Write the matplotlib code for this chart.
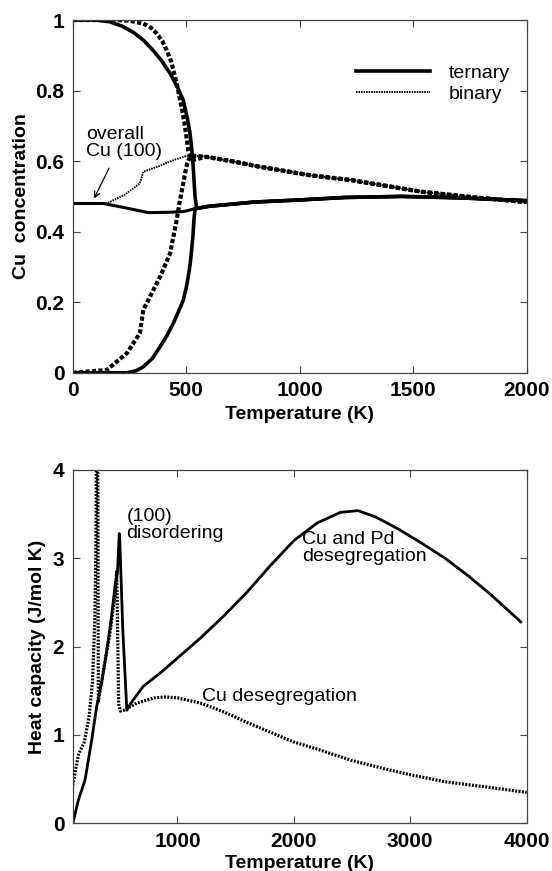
import numpy as np
import matplotlib
matplotlib.use("Agg")
import matplotlib.pyplot as plt
from matplotlib.ticker import FuncFormatter

plt.rcParams['font.family'] = ['Liberation Sans', 'DejaVu Sans']

# ---- painel superior: concentração de Cu ----
# ternário, camada de topo
t_ter_top = [0, 100, 164, 220, 270, 311, 350, 390, 429, 460, 487, 505, 517, 525, 531, 536, 539, 546,
             600, 700, 800, 1000, 1200, 1450, 1700, 2000]
c_ter_top = [1.0, 1.0, 0.995, 0.982, 0.964, 0.943, 0.917, 0.886, 0.849, 0.812, 0.773, 0.722, 0.679, 0.632, 0.584, 0.53, 0.50, 0.466,
             0.472, 0.478, 0.484, 0.49, 0.497, 0.50, 0.496, 0.488]
# ternário, segunda camada
t_ter_sub = [0, 238, 280, 311, 350, 385, 415, 443, 467, 487, 500, 509, 518, 524, 530, 534, 539, 546,
             600, 700, 800, 1000, 1200, 1450, 1700, 2000]
c_ter_sub = [0.0, 0.0, 0.006, 0.017, 0.04, 0.074, 0.105, 0.14, 0.175, 0.206, 0.24, 0.272, 0.31, 0.348, 0.39, 0.433, 0.466, 0.466,
             0.472, 0.478, 0.484, 0.49, 0.497, 0.50, 0.496, 0.488]
# ternário, Cu total (100)
t_ter_all = [0, 135, 230, 333, 420, 487, 546, 600, 700, 800, 1000, 1200, 1450, 1700, 2000]
c_ter_all = [0.48, 0.48, 0.468, 0.454, 0.455, 0.457, 0.466, 0.472, 0.478, 0.484, 0.49, 0.497, 0.50, 0.496, 0.488]
# binário, camada de topo
t_bin_top = [0, 190, 250, 311, 345, 370, 395, 414, 435, 451, 463, 473, 485, 495, 503, 509, 520, 531, 560, 590, 700, 825, 1045,
             1229, 1539, 1772, 2000]
c_bin_top = [1.0, 1.0, 0.998, 0.99, 0.978, 0.962, 0.94, 0.915, 0.88, 0.839, 0.806, 0.773, 0.735, 0.697, 0.66, 0.631, 0.612, 0.603,
             0.608, 0.612, 0.60, 0.584, 0.56, 0.546, 0.513, 0.497, 0.484]
# binário, segunda camada
t_bin_sub = [0, 150, 238, 296, 311, 340, 385, 429, 458, 473, 485, 495, 505, 517, 540, 590, 700, 825, 1045, 1229, 1539, 1772, 2000]
c_bin_sub = [0.0, 0.008, 0.055, 0.112, 0.178, 0.215, 0.272, 0.338, 0.433, 0.49, 0.53, 0.565, 0.595, 0.612, 0.615, 0.612, 0.60,
             0.584, 0.56, 0.546, 0.513, 0.497, 0.484]
# binário, Cu total (100)
t_bin_all = [0, 150, 230, 296, 311, 385, 453, 502, 560, 700, 825, 1045, 1229, 1539, 1772, 2000]
c_bin_all = [0.48, 0.48, 0.505, 0.537, 0.57, 0.587, 0.605, 0.615, 0.615, 0.60, 0.584, 0.56, 0.546, 0.513, 0.497, 0.484]

# ---- painel inferior: capacidade calorífica ----
t_cp_ter = [105, 148, 206, 263, 306, 350, 392, 430, 463, 485, 500, 505, 530, 565, 600, 706, 850, 1000, 1200, 1400, 1600, 1800,
            2000, 2200, 2400, 2550, 2700, 2900, 3100, 3300, 3500, 3700, 3950]
cp_ter = [0.02, 0.26, 0.49, 0.94, 1.32, 1.6, 1.95, 2.3, 2.68, 2.85, 3.28, 3.2, 2.2, 1.28, 1.36, 1.55, 1.70, 1.87, 2.10, 2.35,
          2.62, 2.92, 3.20, 3.40, 3.52, 3.54, 3.47, 3.33, 3.17, 3.00, 2.80, 2.58, 2.28]
t_cp_bin = [100, 150, 200, 240, 270, 290, 300, 305, 315, 320, 340, 380, 420, 460, 478, 488, 495, 510, 540, 650, 800, 900,
            1000, 1200, 1400, 1600, 1800, 2000, 2200, 2500, 2800, 3000, 3300, 3600, 4000]
cp_bin = [0.43, 0.78, 0.92, 1.2, 1.6, 2.3, 3.2, 4.5, 4.5, 1.38, 1.55, 1.85, 2.15, 2.55, 2.85, 2.0, 1.35, 1.27, 1.28, 1.36, 1.42,
          1.43, 1.42, 1.36, 1.26, 1.14, 1.03, 0.92, 0.84, 0.71, 0.61, 0.55, 0.47, 0.42, 0.35]

fig = plt.figure(figsize=(5.52, 8.71), dpi=100)
ax1 = fig.add_axes([0.1317, 0.572, 0.8223, 0.405])
ax2 = fig.add_axes([0.1317, 0.0548, 0.8223, 0.4056])

grossos = (0, (1.0, 0.55))
ax1.plot(t_ter_top, c_ter_top, color='k', lw=2.6, label='ternary')
ax1.plot(t_ter_sub, c_ter_sub, color='k', lw=2.6)
ax1.plot(t_ter_all, c_ter_all, color='k', lw=2.2)
ax1.plot(t_bin_top, c_bin_top, color='k', lw=3.0, linestyle=grossos)
ax1.plot(t_bin_sub, c_bin_sub, color='k', lw=3.0, linestyle=grossos)
ax1.plot(t_bin_all, c_bin_all, color='k', lw=1.4, linestyle=(0, (0.8, 0.5)), label='binary')

ax1.set_xlim(0, 2000)
ax1.set_ylim(0, 1)
ax1.set_xticks([0, 500, 1000, 1500, 2000])
ax1.set_yticks([0, 0.2, 0.4, 0.6, 0.8, 1])
ax1.yaxis.set_major_formatter(FuncFormatter(lambda v, p: '%g' % v))
ax1.set_xlabel('Temperature (K)', fontsize=14, fontweight='bold', labelpad=4)
ax1.set_ylabel('Cu  concentration', fontsize=14, fontweight='bold', labelpad=4)

leg = ax1.legend(loc='upper left', bbox_to_anchor=(0.585, 0.925), frameon=False, fontsize=14,
                 handlelength=3.8, handletextpad=1.0, labelspacing=0.2)

ax1.text(57, 0.70, 'overall\nCu (100)', fontsize=14, va='top', ha='left', linespacing=1.0)
ax1.annotate('', xy=(94, 0.494), xytext=(160, 0.58),
             arrowprops=dict(arrowstyle='->', color='k', lw=0.9, shrinkA=0, shrinkB=0))

ax2.plot(t_cp_ter, cp_ter, color='k', lw=2.0)
ax2.plot(t_cp_bin, cp_bin, color='k', lw=2.3, linestyle=(0, (0.6, 0.45)))
ax2.set_xlim(100, 4000)
ax2.set_ylim(0, 4)
ax2.set_xticks([1000, 2000, 3000, 4000])
ax2.set_yticks([0, 1, 2, 3, 4])
ax2.set_xlabel('Temperature (K)', fontsize=14, fontweight='bold', labelpad=3)
ax2.set_ylabel('Heat capacity (J/mol K)', fontsize=14, fontweight='bold', labelpad=5)

ax2.text(563, 3.57, '(100)\ndisordering', fontsize=14, va='top', ha='left', linespacing=1.0)
ax2.text(2074, 3.31, 'Cu and Pd\ndesegregation', fontsize=14, va='top', ha='left', linespacing=1.0)
ax2.text(1212, 1.44, 'Cu desegregation', fontsize=14, va='center', ha='left')

for ax in (ax1, ax2):
    for s in ax.spines.values():
        s.set_color('#444444')
        s.set_linewidth(0.9)
    ax.tick_params(direction='in', top=True, right=True, length=5, width=0.8, color='#444444',
                   labelsize=15, pad=6)
    for lab in ax.get_xticklabels() + ax.get_yticklabels():
        lab.set_fontweight('bold')

fig.savefig('out.png', dpi=100)
